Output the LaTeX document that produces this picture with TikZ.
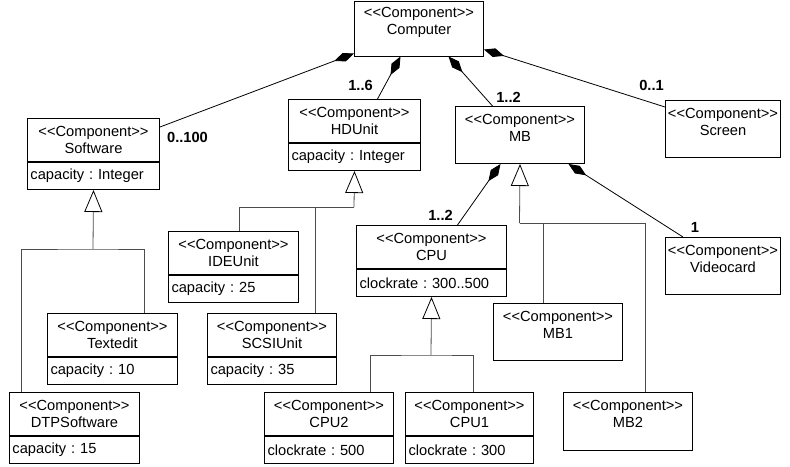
\documentclass[tikz,border=0pt]{standalone}
\usepackage{fontspec}
\setmainfont{Liberation Sans}
\usetikzlibrary{arrows.meta, positioning}
\newcommand{\stereo}{<\kern0pt<Component>\kern0pt>}

\begin{document}
\begin{tikzpicture}[x=1pt, y=-1pt, font=\fontsize{14.67}{17}\selectfont\frenchspacing,
  comp/.style={draw, line width=1pt, inner sep=0pt, anchor=north west,
    minimum width=130pt, minimum height=43pt, align=center},
  attr/.style={draw, line width=1pt, inner xsep=3pt, inner ysep=0pt,
    minimum height=27pt, text width=124pt, align=left},
  mult/.style={font=\fontsize{14.67}{17}\selectfont\bfseries, inner sep=0pt},
  has/.style={arrows={Diamond[length=21pt, width=9pt]-}, line width=0.8pt},
  tree/.style={draw=black!70, line width=0.8pt},
  isa/.style={tree, arrows={-Triangle[open, length=22pt, width=18pt, color=black]}}]
  \useasboundingbox (0,0) rectangle (790,466);

  % top level
  \node[comp, minimum width=129pt, minimum height=55pt] (cmp) at (354,0.5) {};
  \node[comp, draw=none, minimum width=129pt] (cmp-t) at (cmp.north west) {\stereo\\Computer};

  % parts of the computer
  \node[comp, minimum width=132pt] (sw) at (27,118) {\stereo\\Software};
  \node[attr, text width=126pt, below right=0pt of sw.south west] (sw-a) {capacity : Integer};

  \node[comp, minimum width=132pt] (hd) at (288,99) {\stereo\\HDUnit};
  \node[attr, text width=126pt, below right=0pt of hd.south west] (hd-a) {capacity : Integer};

  \node[comp, minimum width=129pt, minimum height=57pt] (mb) at (455,106) {};
  \node[comp, draw=none, minimum width=129pt] (mb-t) at (mb.north west) {\stereo\\MB};

  \node[comp, minimum width=115pt, minimum height=57pt] (scr) at (665,100) {};
  \node[comp, draw=none, minimum width=115pt] (scr-t) at (scr.north west) {\stereo\\Screen};

  % parts of the board
  \node[comp, minimum width=150pt] (cpu) at (356,225) {\stereo\\CPU};
  \node[attr, text width=144pt, below right=0pt of cpu.south west] (cpu-a) {clockrate : 300..500};

  \node[comp, minimum width=115pt, minimum height=57pt] (vc) at (665,237) {};
  \node[comp, draw=none, minimum width=115pt] (vc-t) at (vc.north west) {\stereo\\Videocard};

  % subtypes
  \node[comp] (ide) at (168,231) {\stereo\\IDEUnit};
  \node[attr, below right=0pt of ide.south west] (ide-a) {capacity : 25};

  \node[comp] (te) at (47,313) {\stereo\\Textedit};
  \node[attr, below right=0pt of te.south west] (te-a) {capacity : 10};

  \node[comp, minimum width=129pt] (scsi) at (207,313) {\stereo\\SCSIUnit};
  \node[attr, text width=123pt, below right=0pt of scsi.south west] (scsi-a) {capacity : 35};

  \node[comp] (dtp) at (9,392) {\stereo\\DTPSoftware};
  \node[attr, below right=0pt of dtp.south west] (dtp-a) {capacity : 15};

  \node[comp, minimum width=129pt] (cpu2) at (264,392) {\stereo\\CPU2};
  \node[attr, text width=123pt, below right=0pt of cpu2.south west] (cpu2-a) {clockrate : 500};

  \node[comp, minimum width=128pt] (cpu1) at (405,392) {\stereo\\CPU1};
  \node[attr, text width=122pt, below right=0pt of cpu1.south west] (cpu1-a) {clockrate : 300};

  \node[comp, minimum width=129pt, minimum height=57pt] (mb1) at (493,303) {};
  \node[comp, draw=none, minimum width=129pt] (mb1-t) at (mb1.north west) {\stereo\\MB1};

  \node[comp, minimum width=129pt, minimum height=58pt] (mb2) at (563,392) {};
  \node[comp, draw=none, minimum width=129pt] (mb2-t) at (mb2.north west) {\stereo\\MB2};

  % compositions
  \draw[has] ([yshift=3pt]cmp.south west) -- ([yshift=-9pt]sw.north east)
    node[mult, xshift=27.5pt, yshift=-10pt] {0..100};
  \draw[has] ([xshift=-18.5pt]cmp.south) -- ([xshift=23pt]hd.north)
    node[mult, xshift=-17pt, yshift=14pt] {1..6};
  \draw[has] ([xshift=29.5pt]cmp.south) -- ([xshift=-27.5pt]mb.north)
    node[mult, xshift=16pt, yshift=9pt] {1..2};
  \draw[has] ([yshift=7pt]cmp.south east) -- ([yshift=-7pt]scr.north west)
    node[mult, xshift=-13.5pt, yshift=22pt] {0..1};
  \draw[has] ([xshift=-19.5pt]mb.south) -- ([xshift=26pt]cpu.north)
    node[mult, xshift=-17pt, yshift=10pt] {1..2};
  \draw[has] ([xshift=48.5pt]mb.south) -- ([xshift=18pt]vc.north west)
    node[mult, xshift=12pt, yshift=10pt] {1};

  % generalizations
  \coordinate (sw-j) at (93,249);
  \draw[isa] (sw-j) -- (sw-a.south);
  \draw[tree] ([xshift=12pt]dtp.north west) |- (sw-j) -| ([xshift=32pt]te.north);

  \coordinate (hd-j) at (354,207);
  \draw[isa] (hd-j) -- (hd-a.south);
  \draw[tree] ([xshift=6pt]ide.north) |- (hd-j);
  \draw[tree] ([xshift=43.5pt]scsi.north) -- ([xshift=43.5pt]scsi.north |- hd-j);

  \coordinate (cpu-j) at (431,355);
  \draw[isa] (cpu-j) -- (cpu-a.south);
  \draw[tree] ([xshift=41.5pt]cpu2.north) |- (cpu-j) -| ([xshift=4pt]cpu1.north);

  \coordinate (mb-j) at (519.5,223);
  \draw[isa] (mb-j) -- (mb.south);
  \draw[tree] (mb-j) -| ([xshift=17.5pt]mb2.north);
  \draw[tree] ([xshift=-14.5pt]mb1.north) -- ([xshift=-14.5pt]mb1.north |- mb-j);
\end{tikzpicture}
\end{document}
